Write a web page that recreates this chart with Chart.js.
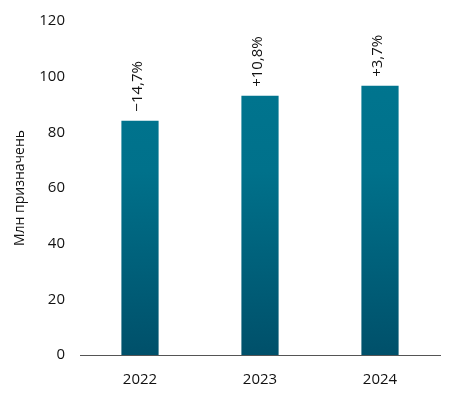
<!DOCTYPE html>
<html>
<head>
<meta charset="utf-8">
<script src="https://cdn.jsdelivr.net/npm/chart.js@4"></script>
<style>
  html, body { margin: 0; padding: 0; background: #fff; }
  #wrap { width: 449px; height: 396px; }
</style>
</head>
<body>
<div id="wrap"><canvas id="chart" width="449" height="396"></canvas></div>
<script>
// chart data
var years = ['2022', '2023', '2024'];
var values = [84.2, 93.1, 96.7];
var changes = ['\u221214,7%', '+10,8%', '+3,7%'];
var yTicks = [0, 20, 40, 60, 80, 100, 120];

var font = "'Open Sans', 'Noto Sans', sans-serif";

// rotated change labels above the bars
var changeLabels = {
  id: 'changeLabels',
  afterDatasetsDraw(chart) {
    var ctx = chart.ctx;
    var bars = chart.getDatasetMeta(0).data;
    ctx.save();
    ctx.fillStyle = '#111';
    ctx.font = '15px ' + font;
    ctx.textAlign = 'left';
    ctx.textBaseline = 'middle';
    bars.forEach(function (bar, i) {
      ctx.save();
      ctx.translate(bar.x - 2, bar.y - 9);
      ctx.rotate(-Math.PI / 2);
      ctx.fillText(changes[i], 0, 0);
      ctx.restore();
    });
    ctx.restore();
  }
};

var ctx = document.getElementById('chart').getContext('2d');
var chart = new Chart(ctx, {
  type: 'bar',
  data: {
    labels: years,
    datasets: [{
      data: values,
      backgroundColor: function (c) {
        var area = c.chart.chartArea;
        if (!area) return '#006a82';
        var g = c.chart.ctx.createLinearGradient(0, area.top, 0, area.bottom);
        g.addColorStop(0, '#007791');
        g.addColorStop(0.45, '#00718b');
        g.addColorStop(1, '#00506a');
        return g;
      },
      borderWidth: 0,
      barPercentage: 0.31,
      categoryPercentage: 1
    }]
  },
  options: {
    responsive: false,
    animation: false,
    layout: { padding: { top: 21, right: 9, left: 0, bottom: 0 } },
    plugins: {
      legend: { display: false },
      tooltip: { enabled: false }
    },
    scales: {
      x: {
        grid: { display: false },
        border: { display: true, color: '#555', width: 1 },
        ticks: { color: '#111', font: { family: font, size: 15 }, padding: 8 },
        afterFit: function (s) { s.height = 41; }
      },
      y: {
        min: 0,
        max: 120,
        afterBuildTicks: function (s) { s.ticks = yTicks.map(function (v) { return { value: v }; }); },
        grid: { display: false },
        border: { display: false },
        ticks: { color: '#111', font: { family: font, size: 15 }, padding: 7 },
        title: {
          display: true,
          text: 'Млн призначень',
          color: '#111',
          font: { family: font, size: 14 },
          padding: { top: 12, bottom: 0 }
        },
        afterFit: function (s) { s.width = 80; }
      }
    }
  },
  plugins: [changeLabels]
});
</script>
</body>
</html>
